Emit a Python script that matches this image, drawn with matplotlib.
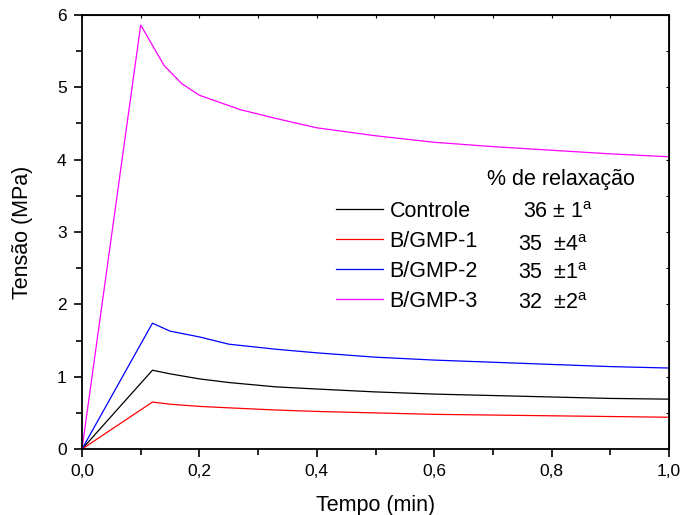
import matplotlib
matplotlib.use('Agg')
import matplotlib.pyplot as plt
from matplotlib.ticker import MultipleLocator, FuncFormatter

plt.rcParams['font.family'] = ['Liberation Sans', 'DejaVu Sans']
plt.rcParams['mathtext.fontset'] = 'custom'
plt.rcParams['mathtext.rm'] = 'Liberation Sans'

# curvas de relaxação de tensão
t_magenta = [0.0, 0.10, 0.14, 0.17, 0.20, 0.27, 0.33, 0.40, 0.50, 0.60, 0.70, 0.80, 0.90, 1.00]
s_magenta = [0.0, 5.86, 5.30, 5.05, 4.89, 4.69, 4.57, 4.44, 4.33, 4.24, 4.18, 4.13, 4.08, 4.04]

t_blue = [0.0, 0.12, 0.15, 0.20, 0.25, 0.33, 0.40, 0.50, 0.60, 0.70, 0.80, 0.90, 1.00]
s_blue = [0.0, 1.74, 1.63, 1.55, 1.45, 1.38, 1.33, 1.27, 1.23, 1.20, 1.17, 1.14, 1.12]

t_black = [0.0, 0.12, 0.15, 0.20, 0.25, 0.33, 0.40, 0.50, 0.60, 0.70, 0.80, 0.90, 1.00]
s_black = [0.0, 1.09, 1.04, 0.97, 0.92, 0.86, 0.83, 0.79, 0.76, 0.74, 0.72, 0.70, 0.69]

t_red = [0.0, 0.12, 0.15, 0.20, 0.25, 0.33, 0.40, 0.50, 0.60, 0.70, 0.80, 0.90, 1.00]
s_red = [0.0, 0.65, 0.62, 0.59, 0.57, 0.54, 0.52, 0.50, 0.48, 0.47, 0.46, 0.45, 0.44]

labels = ['Controle', 'B/GMP-1', 'B/GMP-2', 'B/GMP-3']
relax = ['36 $\\pm$ 1$^{\\mathrm{a}}$', '35  $\\pm$4$^{\\mathrm{a}}$',
         '35  $\\pm$1$^{\\mathrm{a}}$', '32  $\\pm$2$^{\\mathrm{a}}$']

fig = plt.figure(figsize=(6.85, 5.15), dpi=100)
ax = fig.add_axes([0.1197, 0.128, 0.857, 0.843])

ax.plot(t_black, s_black, color='black', lw=0.9, label=labels[0])
ax.plot(t_red, s_red, color='red', lw=0.9, label=labels[1])
ax.plot(t_blue, s_blue, color='blue', lw=0.9, label=labels[2])
ax.plot(t_magenta, s_magenta, color='magenta', lw=0.9, label=labels[3])

ax.set_xlim(0, 1.0)
ax.set_ylim(0, 6)
ax.xaxis.set_major_locator(MultipleLocator(0.2))
ax.xaxis.set_minor_locator(MultipleLocator(0.1))
ax.yaxis.set_major_locator(MultipleLocator(1))
ax.yaxis.set_minor_locator(MultipleLocator(0.5))
ax.xaxis.set_major_formatter(FuncFormatter(lambda v, p: f'{v:.1f}'.replace('.', ',')))

ax.tick_params(which='both', direction='out', width=1.2, labelsize=12.5, pad=5)
ax.tick_params(which='major', length=6)
ax.tick_params(which='minor', length=4)
for s in ax.spines.values():
    s.set_linewidth(1.3)

# ticks bem curtos no topo e à direita
ax2 = ax.secondary_xaxis('top')
ax2.xaxis.set_major_locator(MultipleLocator(0.2))
ax2.xaxis.set_minor_locator(MultipleLocator(0.1))
ax2.tick_params(which='both', direction='in', labeltop=False, width=0.8, length=2)
ax3 = ax.secondary_yaxis('right')
ax3.yaxis.set_major_locator(MultipleLocator(1))
ax3.yaxis.set_minor_locator(MultipleLocator(0.5))
ax3.tick_params(which='both', direction='in', labelright=False, width=0.8, length=2)

ax.set_xlabel('Tempo (min)', fontsize=15.5, labelpad=11)
ax.set_ylabel('Tensão (MPa)', fontsize=15.5, labelpad=17)

leg = ax.legend(loc='upper left', bbox_to_anchor=(0.414, 0.5965), frameon=False,
                fontsize=15.5, handlelength=2.2, handletextpad=0.3,
                labelspacing=0.42, borderpad=0)

ax.text(0.69, 0.621, '% de relaxação', transform=ax.transAxes, fontsize=15.5,
        va='center')
ys = [0.546, 0.470, 0.405, 0.336]
xs = [0.751, 0.743, 0.743, 0.743]
for r, x, y in zip(relax, xs, ys):
    ax.text(x, y, r, transform=ax.transAxes, fontsize=15.5, va='center')

fig.savefig('out.png', dpi=100)
